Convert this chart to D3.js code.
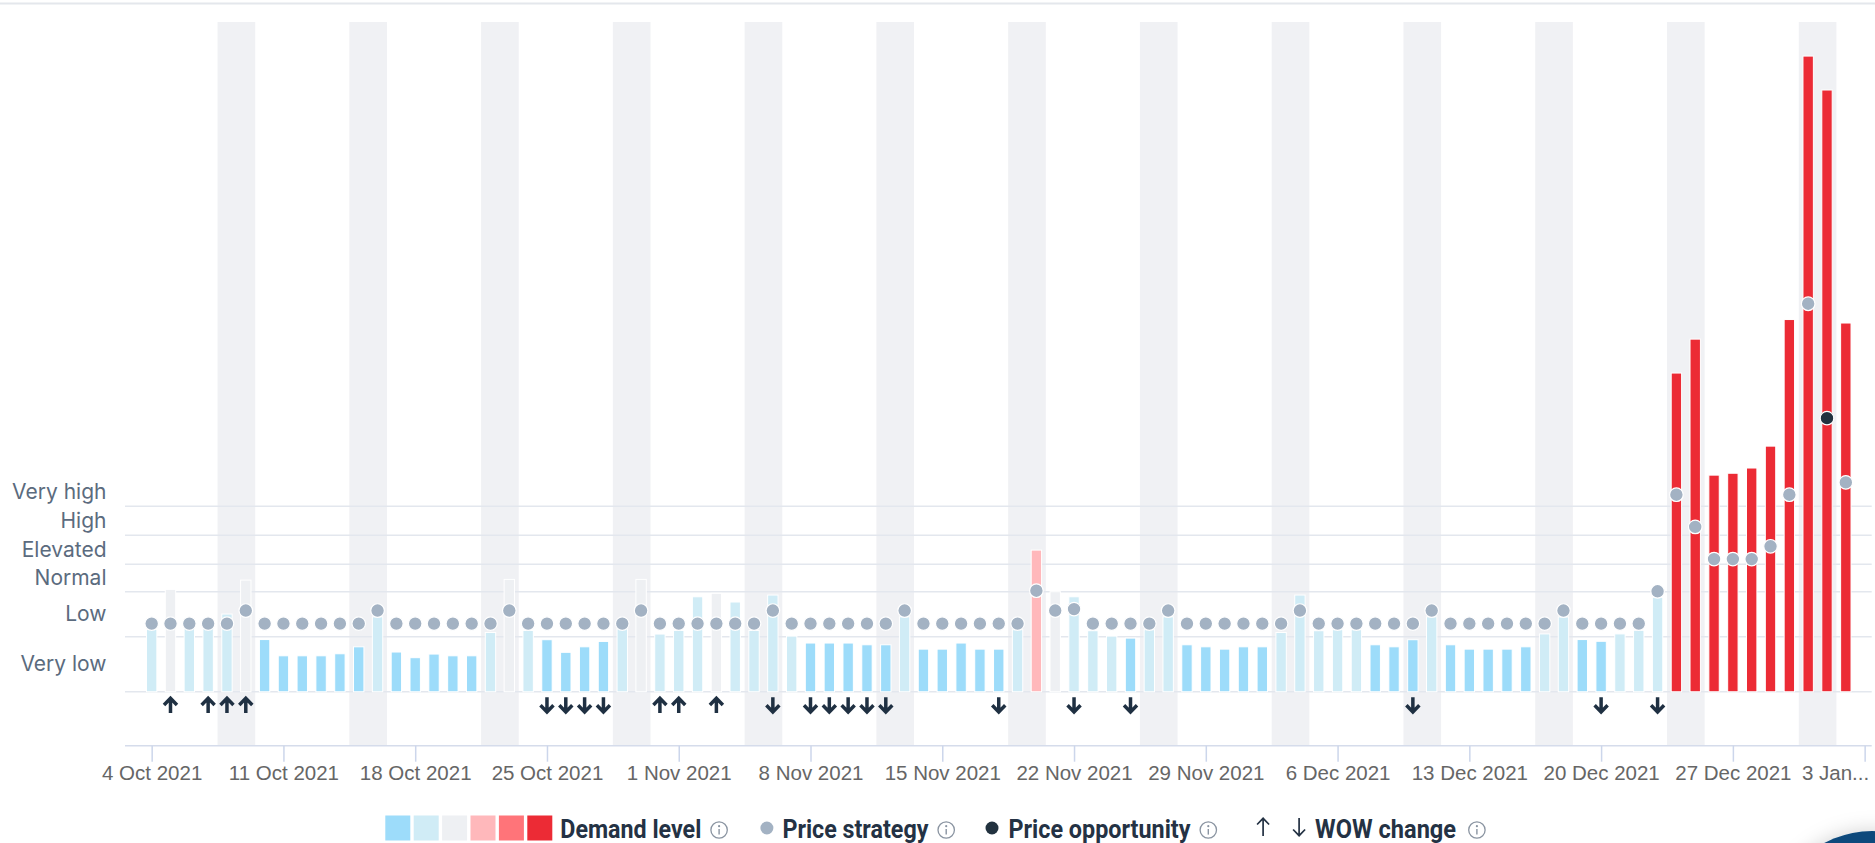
<!DOCTYPE html>
<html>
<head>
<meta charset="utf-8">
<script src="https://cdn.jsdelivr.net/npm/d3@7"></script>
<style>
  html, body { margin: 0; padding: 0; background: #fff; overflow: hidden; }
  svg { display: block; }
</style>
</head>
<body>
<svg id="chart" width="1875" height="843"></svg>
<script>
// ---- data ----
const firstDay = "2021-10-04";
const lastDay = "2022-01-02";

const demand = [
  43, 70.6, 43.7, 43.7, 53.6, 77, 36, 24.8, 24.8, 24.8,
  26.2, 31, 51.7, 27.4, 23.5, 26, 24.8, 24.8, 40.9, 77.5,
  42.3, 35.9, 27.2, 31, 34.7, 43.5, 77.5, 39.8, 42.3, 65.5,
  67.9, 61.9, 42.3, 66.7, 38.4, 33.6, 33.6, 33.6, 32.4, 32.4,
  51.7, 29.4, 29.4, 33.6, 29.4, 29.4, 42.8, 97.7, 69, 65.5,
  42.1, 38.4, 37, 42.8, 51.7, 32.4, 31, 29.4, 31, 31,
  40.9, 66.7, 42.1, 42.8, 42.8, 32.4, 31, 35.9, 51.7, 32.4,
  29.4, 29.4, 29.4, 31, 39.9, 51.6, 36, 34.8, 39.9, 42.4,
  65.2, 219.8, 243.2, 149.4, 150.7, 154.3, 169.4, 256.7, 438.4, 415, 254.3
];

// 0 very low .. 5 very high (colour class of each bar)
const demandLevel = [
  1, 2, 1, 1, 1, 2, 0, 0, 0, 0,
  0, 0, 1, 0, 0, 0, 0, 0, 1, 2,
  1, 0, 0, 0, 0, 1, 2, 1, 1, 1,
  2, 1, 1, 1, 1, 0, 0, 0, 0, 0,
  1, 0, 0, 0, 0, 0, 1, 3, 2, 1,
  1, 1, 0, 1, 1, 0, 0, 0, 0, 0,
  1, 1, 1, 1, 1, 0, 0, 0, 1, 0,
  0, 0, 0, 0, 1, 1, 0, 0, 1, 1,
  1, 5, 5, 5, 5, 5, 5, 5, 5, 5, 5
];

const priceStrategy = [
  47, 47, 47, 47, 47, 56, 47, 47, 47, 47,
  47, 47, 56, 47, 47, 47, 47, 47, 47, 56,
  47, 47, 47, 47, 47, 47, 56, 47, 47, 47,
  47, 47, 47, 56, 47, 47, 47, 47, 47, 47,
  56, 47, 47, 47, 47, 47, 47, 69.7, 56, 57,
  47, 47, 47, 47, 56, 47, 47, 47, 47, 47,
  47, 56, 47, 47, 47, 47, 47, 47, 56, 47,
  47, 47, 47, 47, 47, 56, 47, 47, 47, 47,
  69.3, 135.9, 113.7, 91.5, 91.5, 91.5, 100.3, 135.9, 267.6, null, 144.4
];

const priceOpportunity = [{ date: "2022-01-01", value: 188.7 }];

// 1 = up, -1 = down, 0 = none
const wowChange = [
  0, 1, 0, 1, 1, 1, 0, 0, 0, 0,
  0, 0, 0, 0, 0, 0, 0, 0, 0, 0,
  0, -1, -1, -1, -1, 0, 0, 1, 1, 0,
  1, 0, 0, -1, 0, -1, -1, -1, -1, -1,
  0, 0, 0, 0, 0, -1, 0, 0, 0, -1,
  0, 0, -1, 0, 0, 0, 0, 0, 0, 0,
  0, 0, 0, 0, 0, 0, 0, -1, 0, 0,
  0, 0, 0, 0, 0, 0, 0, -1, 0, 0,
  -1, 0, 0, 0, 0, 0, 0, 0, 0, 0, 0
];

const levelNames = ["Very low", "Low", "Normal", "Elevated", "High", "Very high"];
const levelBounds = [0, 38, 69, 88, 108, 128, 148];
const levelColors = ["#9ddcfa", "#d0ecf6", "#eef0f3", "#ffb8bb", "#ff7479", "#ec2b35"];

const tickLabels = [
  "4 Oct 2021", "11 Oct 2021", "18 Oct 2021", "25 Oct 2021", "1 Nov 2021",
  "8 Nov 2021", "15 Nov 2021", "22 Nov 2021", "29 Nov 2021", "6 Dec 2021",
  "13 Dec 2021", "20 Dec 2021", "27 Dec 2021", "3 Jan..."
];

// ---- layout ----
const width = 1875;
const height = 843;
const plot = { left: 125, right: 1871.7, top: 22, bottom: 745.7 };

const parse = d3.utcParse("%Y-%m-%d");
const days = d3.utcDay.range(parse(firstDay), d3.utcDay.offset(parse(lastDay), 1));
const rows = days.map((d, i) => ({
  date: d,
  demand: demand[i],
  level: demandLevel[i],
  price: priceStrategy[i],
  wow: wowChange[i]
}));

const svg = d3.select("#chart");

const x = d3.scaleUtc()
  .domain([d3.utcHour.offset(days[0], -34), d3.utcHour.offset(days[days.length - 1], 33.6)])
  .range([plot.left, plot.right]);

const y = d3.scaleLinear()
  .domain([-37.2, 461.9])
  .range([plot.bottom, plot.top]);

// top page rule
svg.append("line")
  .attr("x1", 0).attr("x2", width)
  .attr("y1", 3.5).attr("y2", 3.5)
  .attr("stroke", "#e4e7ec")
  .attr("stroke-width", 2);

// weekend (Fri/Sat) bands
const fridays = days.filter((d) => d.getUTCDay() === 5);
svg.append("g")
  .selectAll("rect")
  .data(fridays)
  .join("rect")
  .attr("x", (d) => x(d3.utcHour.offset(d, -12)))
  .attr("width", (d) => x(d3.utcHour.offset(d, 36)) - x(d3.utcHour.offset(d, -12)))
  .attr("y", plot.top)
  .attr("height", plot.bottom - plot.top)
  .attr("fill", "#f0f1f4");

// grid lines at level boundaries
svg.append("g")
  .selectAll("line")
  .data(levelBounds.slice(0, 6))
  .join("line")
  .attr("x1", plot.left)
  .attr("x2", plot.right)
  .attr("y1", (d) => y(d))
  .attr("y2", (d) => y(d))
  .attr("stroke", "#e3e7ee")
  .attr("stroke-width", 1.5);

// y axis: level names in the middle of each band
const mids = levelNames.map((n, i) => (levelBounds[i] + levelBounds[i + 1]) / 2);
const yAxis = svg.append("g")
  .attr("transform", `translate(${plot.left},0)`)
  .call(
    d3.axisLeft(y)
      .tickValues(mids)
      .tickFormat((d, i) => levelNames[i])
      .tickSize(0)
      .tickPadding(18.5)
  );
yAxis.select(".domain").remove();
yAxis.selectAll("text")
  .attr("font-family", "Inter, 'Noto Sans', sans-serif")
  .attr("font-size", 21)
  .attr("fill", "#5b6b7e");

// x axis
const mondays = d3.utcMonday.range(days[0], d3.utcDay.offset(days[days.length - 1], 2));
const xAxis = svg.append("g")
  .attr("transform", `translate(0,${plot.bottom})`)
  .call(
    d3.axisBottom(x)
      .tickValues(mondays)
      .tickFormat((d, i) => tickLabels[i])
      .tickSize(16)
      .tickPadding(4)
  );
xAxis.select(".domain")
  .attr("d", `M${plot.left},0H${plot.right}`)
  .attr("stroke", "#d5dceb")
  .attr("stroke-width", 1.5);
xAxis.selectAll(".tick line")
  .attr("stroke", "#ccd6eb")
  .attr("stroke-width", 1.5);
xAxis.selectAll("text")
  .attr("font-family", "'Liberation Sans', Arial, sans-serif")
  .attr("font-size", 20.5)
  .attr("fill", "#666666");
xAxis.selectAll(".tick:last-of-type text")
  .attr("text-anchor", "end")
  .attr("x", 4);

// demand bars
const barW = 10.4;
svg.append("g")
  .selectAll("rect")
  .data(rows)
  .join("rect")
  .attr("x", (d) => x(d.date) - barW / 2)
  .attr("width", barW)
  .attr("y", (d) => y(d.demand))
  .attr("height", (d) => y(0) - y(d.demand))
  .attr("fill", (d) => levelColors[d.level])
  .attr("stroke", "#ffffff")
  .attr("stroke-width", 1);

// price strategy dots
svg.append("g")
  .selectAll("circle")
  .data(rows.filter((d) => d.price != null))
  .join("circle")
  .attr("cx", (d) => x(d.date))
  .attr("cy", (d) => y(d.price))
  .attr("r", 6.8)
  .attr("fill", "#a3b2c3")
  .attr("stroke", "#ffffff")
  .attr("stroke-width", 1.2);

// price opportunity
svg.append("g")
  .selectAll("circle")
  .data(priceOpportunity)
  .join("circle")
  .attr("cx", (d) => x(parse(d.date)))
  .attr("cy", (d) => y(d.value))
  .attr("r", 6.8)
  .attr("fill", "#22323f")
  .attr("stroke", "#ffffff")
  .attr("stroke-width", 1.2);

// week-over-week arrows
const arrowUp = "M0,7.8V-6.5M-6.5,-0.2L0,-6.8L6.5,-0.2";
svg.append("g")
  .selectAll("path")
  .data(rows.filter((d) => d.wow !== 0))
  .join("path")
  .attr("d", arrowUp)
  .attr("transform", (d) => `translate(${x(d.date)},${y(-9.2)}) rotate(${d.wow > 0 ? 0 : 180})`)
  .attr("fill", "none")
  .attr("stroke", "#1f3042")
  .attr("stroke-width", 3.5);

// legend
const legend = svg.append("g");
const ly = 828;
let lx = 0;

function legendText(label, w) {
  legend.append("text")
    .attr("x", lx)
    .attr("y", ly + 9.5)
    .attr("font-family", "Roboto, Inter, sans-serif")
    .attr("font-weight", 700)
    .attr("font-size", 25)
    .attr("fill", "#243244")
    .attr("textLength", w)
    .attr("lengthAdjust", "spacingAndGlyphs")
    .text(label);
  lx += w;
}

function legendInfo() {
  const g = legend.append("g").attr("transform", `translate(${lx + 8.8},${ly + 2})`);
  g.append("circle").attr("r", 8.2).attr("fill", "none").attr("stroke", "#8a94a1").attr("stroke-width", 1.3);
  g.append("circle").attr("cy", -3.8).attr("r", 1.1).attr("fill", "#8a94a1");
  g.append("line").attr("y1", -1).attr("y2", 4.6).attr("stroke", "#8a94a1").attr("stroke-width", 1.4);
  lx += 17.6;
}

function legendDot(color) {
  legend.append("circle")
    .attr("cx", lx + 6.5)
    .attr("cy", ly)
    .attr("r", 6.5)
    .attr("fill", color);
  lx += 13;
}

function legendArrow(dir) {
  legend.append("path")
    .attr("d", "M0,9V-8.5M-6,-2.5L0,-8.7L6,-2.5")
    .attr("transform", `translate(${lx + 7},${ly - 1}) rotate(${dir > 0 ? 0 : 180})`)
    .attr("fill", "none")
    .attr("stroke", "#243244")
    .attr("stroke-width", 1.7);
  lx += 14;
}

levelColors.forEach((c) => {
  legend.append("rect")
    .attr("x", lx)
    .attr("y", ly - 12.5)
    .attr("width", 25)
    .attr("height", 25)
    .attr("fill", c);
  lx += 28.4;
});
lx += 4.6;
legendText("Demand level", 141);
lx += 9;
legendInfo();
lx += 32.5;
legendDot("#a3b2c3");
lx += 9;
legendText("Price strategy", 146);
lx += 9;
legendInfo();
lx += 30.5;
legendDot("#22323f");
lx += 10;
legendText("Price opportunity", 182);
lx += 9;
legendInfo();
lx += 39;
legendArrow(1);
lx += 22;
legendArrow(-1);
lx += 9;
legendText("WOW change", 141);
lx += 12;
legendInfo();

legend.attr("transform", `translate(${width / 2 - lx / 2 - 2},0)`);

// floating help button peeking in at the corner
const defs = svg.append("defs");
const shadow = defs.append("filter").attr("id", "btnShadow")
  .attr("x", "-50%").attr("y", "-50%").attr("width", "200%").attr("height", "200%");
shadow.append("feDropShadow")
  .attr("dx", 0).attr("dy", 0)
  .attr("stdDeviation", 10)
  .attr("flood-color", "#000")
  .attr("flood-opacity", 0.18);
svg.append("circle")
  .attr("cx", 1872)
  .attr("cy", 931)
  .attr("r", 100)
  .attr("fill", "#0d4a7c")
  .attr("filter", "url(#btnShadow)");
</script>
</body>
</html>
